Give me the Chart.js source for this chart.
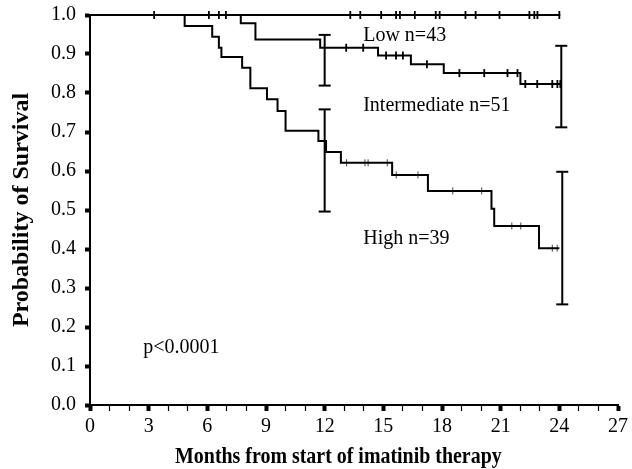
<!DOCTYPE html>
<html>
<head>
<meta charset="utf-8">
<script src="https://cdn.jsdelivr.net/npm/chart.js@4.4.1/dist/chart.umd.min.js"></script>
<style>
  html, body { margin: 0; padding: 0; background: #fff; }
  #wrap { width: 632px; height: 469px; }
</style>
</head>
<body>
<div id="wrap"><canvas id="km"></canvas></div>
<script>
// Curvas de sobrevida (Kaplan-Meier) por grupo de risco

// Low n=43 - sem eventos
const lowTimes = [0, 24.05];
const lowSurv = [1, 1];
const lowCensor = [3.28, 6.08, 6.59, 6.95, 13.31, 13.82, 14.89, 15.65, 15.85, 16.61,
  17.68, 17.88, 19.2, 19.72, 20.94, 22.47, 22.72, 22.88, 24.0];

// Intermediate n=51
const intTimes = [0, 7.71, 8.46, 11.77, 14.73, 16.41, 18.09, 22.01, 24.05];
const intSurv = [1, 0.979, 0.937, 0.916, 0.896, 0.874, 0.851, 0.823, 0.823];
const intCensor = [13.1, 13.97, 15.14, 15.65, 16.0, 17.23, 18.89, 20.16, 21.35, 21.86,
  22.26, 22.87, 23.64, 23.9, 24.05];

// High n=39
const highTimes = [0, 4.84, 6.25, 6.59, 6.72, 7.78, 8.2, 9.05, 9.59, 10.0, 11.68, 12.07,
  12.83, 15.45, 17.28, 20.53, 20.67, 22.96, 24.0];
const highSurv = [1, 0.972, 0.944, 0.916, 0.892, 0.865, 0.812, 0.784, 0.754, 0.703, 0.677,
  0.649, 0.621, 0.590, 0.549, 0.503, 0.459, 0.402, 0.402];
const highCensor = [13.12, 14.06, 14.22, 15.2, 15.66, 16.77, 18.55, 20.03, 21.57, 22.03,
  23.64, 23.89];

// Intervalos de confiança
const intErrX = [12, 24.1];
const intErrLo = [0.819, 0.712];
const intErrHi = [0.949, 0.921];
const highErrX = [12, 24.15];
const highErrLo = [0.496, 0.258];
const highErrHi = [0.758, 0.598];

// Eixos
const xTicks = [0, 3, 6, 9, 12, 15, 18, 21, 24, 27];
const yTickLabels = ['0.0', '0.1', '0.2', '0.3', '0.4', '0.5', '0.6', '0.7', '0.8', '0.9', '1.0'];
const xTitle = 'Months from start of imatinib therapy';
const yTitle = 'Probability of Survival';

// Textos dentro do gráfico
const noteTexts = ['Low n=43', 'Intermediate n=51', 'High n=39', 'p<0.0001'];
const noteX = [13.97, 13.97, 13.97, 2.72];
const noteY = [0.934, 0.755, 0.413, 0.134];

const SERIF = '"Liberation Serif", "Times New Roman", serif';

function stepPoints(times, surv) {
  return times.map((t, i) => ({ x: t, y: surv[i] }));
}

// valor da curva no instante t (para posicionar as marcas de censura)
function survAt(times, surv, t) {
  let s = surv[0];
  for (let i = 0; i < times.length; i++) {
    if (times[i] <= t) s = surv[i];
  }
  return s;
}

function censorPoints(times, surv, cens) {
  return cens.map(t => ({ x: t, y: survAt(times, surv, t) }));
}

function curve(times, surv) {
  return {
    type: 'line',
    data: stepPoints(times, surv),
    stepped: 'before',
    borderColor: '#000',
    borderWidth: 2,
    pointRadius: 0,
    fill: false,
    clip: false
  };
}

function censorSet(times, surv, cens, thin) {
  return {
    type: 'scatter',
    data: censorPoints(times, surv, cens),
    pointStyle: 'line',
    rotation: 90,
    pointRadius: thin ? 3.5 : 4,
    borderColor: thin ? '#444' : '#000',
    borderWidth: thin ? 1 : 1.8,
    clip: false
  };
}

function errorSets(xs, lo, hi) {
  return xs.map((x, i) => ({
    type: 'line',
    data: [{ x: x, y: lo[i] }, { x: x, y: hi[i] }],
    borderColor: '#000',
    borderWidth: 2,
    pointStyle: 'line',
    pointRadius: 6,
    pointBorderWidth: 2,
    pointBorderColor: '#000',
    fill: false,
    clip: false
  }));
}

// Rótulos das curvas + título do eixo x (fonte um pouco condensada como no original)
const notesPlugin = {
  id: 'notes',
  afterDraw(chart) {
    const { ctx, scales } = chart;
    ctx.save();
    ctx.fillStyle = '#000';
    ctx.font = '20px ' + SERIF;
    ctx.textBaseline = 'alphabetic';
    ctx.textAlign = 'left';
    noteTexts.forEach((txt, i) => {
      ctx.fillText(txt, scales.x.getPixelForValue(noteX[i]), scales.y.getPixelForValue(noteY[i]));
    });

    ctx.translate(scales.x.getPixelForValue(12.7), scales.x.bottom - 6);
    ctx.scale(0.83, 1);
    ctx.font = 'bold 24px ' + SERIF;
    ctx.textAlign = 'center';
    ctx.fillText(xTitle, 0, 0);
    ctx.restore();
  }
};

const datasets = [
  curve(lowTimes, lowSurv),
  curve(intTimes, intSurv),
  curve(highTimes, highSurv),
  censorSet(lowTimes, lowSurv, lowCensor, false),
  censorSet(intTimes, intSurv, intCensor, false),
  censorSet(highTimes, highSurv, highCensor, true),
  ...errorSets(intErrX, intErrLo, intErrHi),
  ...errorSets(highErrX, highErrLo, highErrHi)
];

new Chart(document.getElementById('km'), {
  type: 'scatter',
  data: { datasets },
  options: {
    responsive: true,
    maintainAspectRatio: false,
    animation: false,
    events: [],
    layout: { padding: { left: 0, top: 15, right: 12, bottom: 0 } },
    plugins: {
      legend: { display: false },
      tooltip: { enabled: false }
    },
    scales: {
      x: {
        type: 'linear',
        min: 0,
        max: 27,
        afterFit: s => { s.height = 64; },
        border: { display: true, color: '#000', width: 2 },
        grid: {
          drawOnChartArea: false,
          drawTicks: true,
          tickLength: 6,
          tickColor: '#000',
          tickWidth: c => (xTicks.includes(c.tick.value) ? 4 : 1.2)
        },
        ticks: {
          stepSize: 1,
          autoSkip: false,
          maxRotation: 0,
          padding: 4,
          color: '#000',
          font: { family: SERIF, size: 20 },
          callback: v => (xTicks.includes(v) ? String(v) : '')
        },
        title: { display: false }
      },
      y: {
        type: 'linear',
        min: 0,
        max: 1,
        afterFit: s => {
          s.width = 90;
          s.paddingTop = 0;
          s.paddingBottom = 0;
        },
        border: { display: true, color: '#000', width: 2 },
        grid: {
          drawOnChartArea: false,
          drawTicks: true,
          tickLength: 5,
          tickColor: '#000',
          tickWidth: 4
        },
        ticks: {
          stepSize: 0.1,
          padding: 9,
          color: '#000',
          font: { family: SERIF, size: 20 },
          callback: v => yTickLabels[Math.round(v * 10)]
        },
        title: {
          display: true,
          text: yTitle,
          color: '#000',
          font: { family: SERIF, size: 24, weight: 'bold' },
          padding: { top: 7, bottom: 7 }
        }
      }
    }
  },
  plugins: [notesPlugin]
});
</script>
</body>
</html>
